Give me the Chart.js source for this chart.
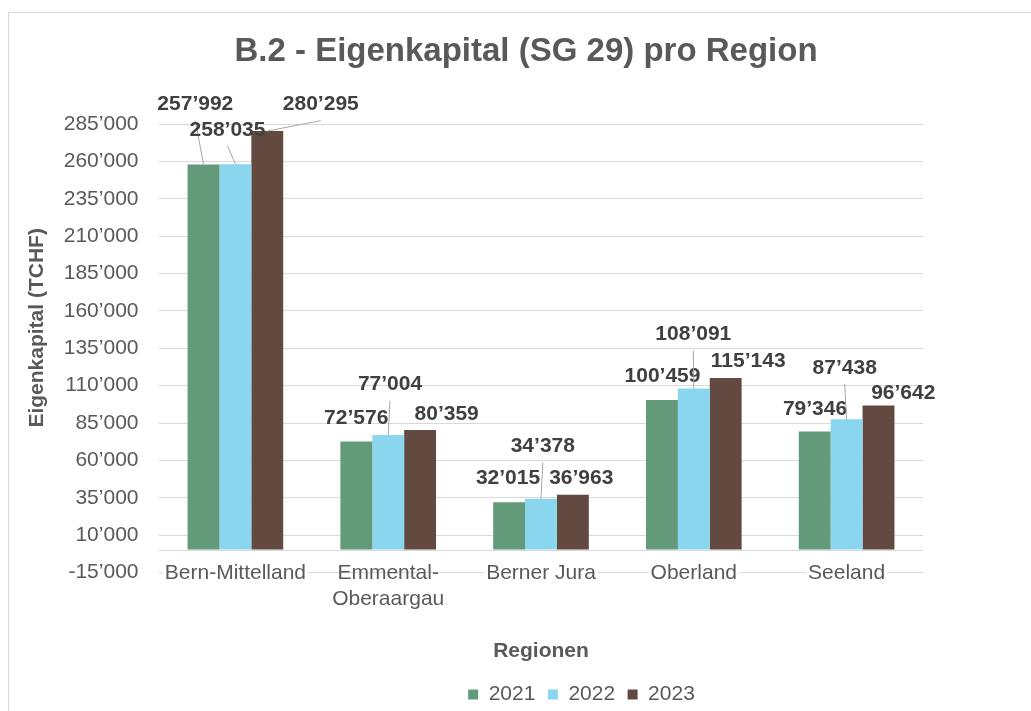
<!DOCTYPE html>
<html><head><meta charset="utf-8">
<script src="https://cdn.jsdelivr.net/npm/chart.js@4.4.1/dist/chart.umd.min.js"></script>
<style>
html,body{margin:0;padding:0;background:#fff;overflow:hidden;width:1031px;height:711px;}
#frame{position:absolute;left:8px;top:12px;width:1100px;height:800px;border:1px solid #D9D9D9;box-sizing:border-box;}
#c{position:absolute;left:0;top:0;}
</style></head><body>
<div id="frame"></div>
<canvas id="c" width="1031" height="711"></canvas>
<script>
const categories = ['Bern-Mittelland', ['Emmental-', 'Oberaargau'], 'Berner Jura', 'Oberland', 'Seeland'];
const seriesNames = ['2021', '2022', '2023'];
const values2021 = [257992, 72576, 32015, 100459, 79346];
const values2022 = [258035, 77004, 34378, 108091, 87438];
const values2023 = [280295, 80359, 36963, 115143, 96642];
const yTickValues = [-15000, 10000, 35000, 60000, 85000, 110000, 135000, 160000, 185000, 210000, 235000, 260000, 285000];
const colors = ['#639A7A', '#89D6EE', '#634A40'];

// label placement relative to bar top centre: [dx, dy, leaderLine]
const labelOffsets = [
  [[-8.2, -59.7, true], [-0.1, -23.6, false], [-1.1, -24.2, false], [0.6, -23.6, false], [0.3, -21.8, false]],
  [[-7.9, -34.4, true], [1.8, -50.3, true], [1.8, -52, true], [-0.5, -53.8, true], [-1.9, -51.4, true]],
  [[53.5, -26.4, true], [26.6, -15.3, false], [8.4, -16.8, false], [22.5, -16.7, false], [24.8, -12.6, false]]
];

const FONT = '"Liberation Sans", Arial, sans-serif';
const fmt = v => {
  const s = Math.abs(Math.round(v)).toString().replace(/\B(?=(\d{3})+(?!\d))/g, '\u2019');
  return (v < 0 ? '-' : '') + s;
};

const layoutShift = {
  id: 'layoutShift',
  afterLayout(chart) {
    const t = chart.titleBlock;
    if (t) { t.left += 54.5; t.right += 54.5; t.top += 3; t.bottom += 3; }
    const l = chart.legend;
    if (l) { l.left += 110; l.right += 110; l.top += 4; l.bottom += 4; }
  }
};

const valueLabels = {
  id: 'valueLabels',
  afterDatasetsDraw(chart) {
    const ctx = chart.ctx;
    ctx.save();
    ctx.font = 'bold 21px ' + FONT;
    ctx.fillStyle = '#404040';
    ctx.textAlign = 'center';
    ctx.textBaseline = 'middle';
    chart.data.datasets.forEach((ds, i) => {
      const meta = chart.getDatasetMeta(i);
      meta.data.forEach((bar, j) => {
        const [dx, dy, leader] = labelOffsets[i][j];
        const lx = bar.x + dx, ly = bar.y + dy;
        if (leader) {
          ctx.strokeStyle = '#A6A6A6';
          ctx.lineWidth = 1;
          ctx.beginPath();
          ctx.moveTo(bar.x, bar.y);
          ctx.lineTo(lx, ly + 16);
          ctx.stroke();
        }
        ctx.fillText(fmt(ds.data[j]), lx, ly);
      });
    });
    ctx.restore();
  }
};

Chart.defaults.font.family = FONT;
Chart.defaults.color = '#595959';

new Chart(document.getElementById('c'), {
  type: 'bar',
  data: {
    labels: categories,
    datasets: [values2021, values2022, values2023].map((d, i) => ({
      label: seriesNames[i],
      data: d,
      backgroundColor: colors[i],
      borderWidth: 0,
      categoryPercentage: 0.626,
      barPercentage: 1
    }))
  },
  options: {
    responsive: false,
    animation: false,
    devicePixelRatio: 1,
    layout: { padding: { left: 20, right: 108, top: 0, bottom: 0 } },
    plugins: {
      title: {
        display: true,
        text: 'B.2 - Eigenkapital (SG 29) pro Region',
        font: { size: 33, weight: 'bold' },
        color: '#595959',
        padding: { top: 28.7, bottom: 55.7 }
      },
      legend: {
        position: 'bottom',
        labels: { boxWidth: 10, boxHeight: 10, padding: 12.5, font: { size: 21 }, color: '#595959' }
      },
      tooltip: { enabled: false }
    },
    scales: {
      x: {
        grid: { display: false },
        border: { display: false },
        ticks: {
          mirror: true,
          font: { size: 21 }, color: '#595959', padding: -13.8, maxRotation: 0, autoSkip: false,
          showLabelBackdrop: c => !Array.isArray(categories[c.index]),
          backdropColor: '#FFFFFF',
          backdropPadding: { left: 2, right: 2, top: -8, bottom: 0 }
        },
        title: { display: true, text: 'Regionen', font: { size: 21, weight: 'bold' }, color: '#595959', padding: { top: 0, bottom: 3.9 } },
        afterFit: s => { s.height = 95; }
      },
      y: {
        min: -15000,
        max: 285000,
        grid: { color: '#D9D9D9', lineWidth: 1, drawTicks: false, z: -1 },
        border: { display: false },
        ticks: { font: { size: 21 }, color: '#595959', padding: 20.5, callback: v => (v === 0 ? '' : fmt(v)) },
        afterBuildTicks: s => {
          s.ticks = yTickValues.concat([0]).sort((a, b) => a - b).map(v => ({ value: v }));
        },
        title: { display: true, text: '       Eigenkapital (TCHF)', font: { size: 21, weight: 'bold' }, color: '#595959', padding: { top: 4.4, bottom: 0 } },
        afterFit: s => { s.width = 139; }
      }
    }
  },
  plugins: [layoutShift, valueLabels]
});
</script></body></html>
